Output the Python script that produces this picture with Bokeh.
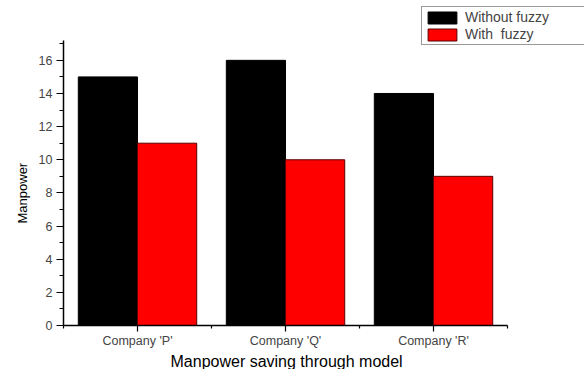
from bokeh.plotting import figure
from bokeh.models import (ColumnDataSource, FixedTicker, Range1d, Legend,
                          LegendItem, Title)
from bokeh.transform import dodge
from bokeh.embed import file_html
from bokeh.resources import INLINE

# Manpower needed per company, with and without the fuzzy model
companies = ["Company 'P'", "Company 'Q'", "Company 'R'"]
positions = [1, 2, 3]
without_fuzzy = [15, 16, 14]
with_fuzzy = [11, 10, 9]

y_ticks = [0, 2, 4, 6, 8, 10, 12, 14, 16]
y_minor_ticks = [1, 3, 5, 7, 9, 11, 13, 15, 17]
x_minor_ticks = [0.5, 1.5, 2.5, 3.5]

FONT = "Liberation Sans"
BAR_W = 0.4

source = ColumnDataSource(dict(pos=positions, without=without_fuzzy, with_=with_fuzzy))

# the plot area reaches the top-right corner so the legend can sit there;
# the axes themselves are bounded to the data extent
p = figure(width=584, height=369, output_backend="svg", toolbar_location=None,
           x_range=Range1d(0.5, 4.02), y_range=Range1d(0, 19.61),
           min_border_left=63, min_border_right=0,
           min_border_top=0, min_border_bottom=43)

r_without = p.vbar(x=dodge("pos", -BAR_W / 2, range=p.x_range), top="without",
                   width=BAR_W, source=source,
                   fill_color="black", line_color="black", line_width=1)
r_with = p.vbar(x=dodge("pos", BAR_W / 2, range=p.x_range), top="with_",
                width=BAR_W, source=source,
                fill_color="#ff0000", line_color="#5a0000", line_width=1)

p.xgrid.visible = False
p.ygrid.visible = False
p.outline_line_color = None
p.background_fill_color = "white"
p.border_fill_color = "white"

# x axis: company names at the group centres, minor ticks between groups
xa = p.xaxis[0]
xa.bounds = (0.5, 3.5)
xa.ticker = FixedTicker(ticks=positions, minor_ticks=x_minor_ticks)
xa.major_label_overrides = {pos: name for pos, name in zip(positions, companies)}
xa.major_label_text_font = FONT
xa.major_label_text_font_size = "12.5px"
xa.major_label_standoff = 2
xa.major_tick_in = 0
xa.major_tick_out = 6
xa.minor_tick_in = 0
xa.minor_tick_out = 3
xa.axis_line_width = 1.5
xa.major_tick_line_width = 1.2
xa.minor_tick_line_width = 1.2

# y axis
ya = p.yaxis[0]
ya.bounds = (0, 17.2)
ya.ticker = FixedTicker(ticks=y_ticks, minor_ticks=y_minor_ticks)
ya.major_label_text_font = FONT
ya.major_label_text_font_size = "12.5px"
ya.major_label_standoff = 4
ya.major_tick_in = 0
ya.major_tick_out = 7
ya.minor_tick_in = 0
ya.minor_tick_out = 4
ya.axis_line_width = 1.5
ya.major_tick_line_width = 1.2
ya.minor_tick_line_width = 1.2

# axis titles, centred under / beside the bounded axes
p.add_layout(Title(text="Manpower saving through model", align="left", offset=107,
                   standoff=0, text_font=FONT, text_font_size="16px",
                   text_font_style="normal", text_color="black"), "below")
p.add_layout(Title(text="Manpower", align="left", offset=102,
                   standoff=12, text_font=FONT, text_font_size="13px",
                   text_font_style="normal", text_color="black"), "left")

# boxed legend in the top-right corner
legend = Legend(items=[LegendItem(label="Without fuzzy", renderers=[r_without]),
                       LegendItem(label="With  fuzzy", renderers=[r_with])],
                location=(358, 280),
                padding=2, spacing=1, margin=0,
                glyph_width=36, glyph_height=15,
                label_height=15, label_width=117, label_standoff=5,
                label_text_font=FONT, label_text_font_size="14px",
                border_line_color="#333333", border_line_width=1.2,
                background_fill_color="white", background_fill_alpha=1)
p.add_layout(legend, "center")

open("out.html", "w").write(file_html(p, INLINE))
